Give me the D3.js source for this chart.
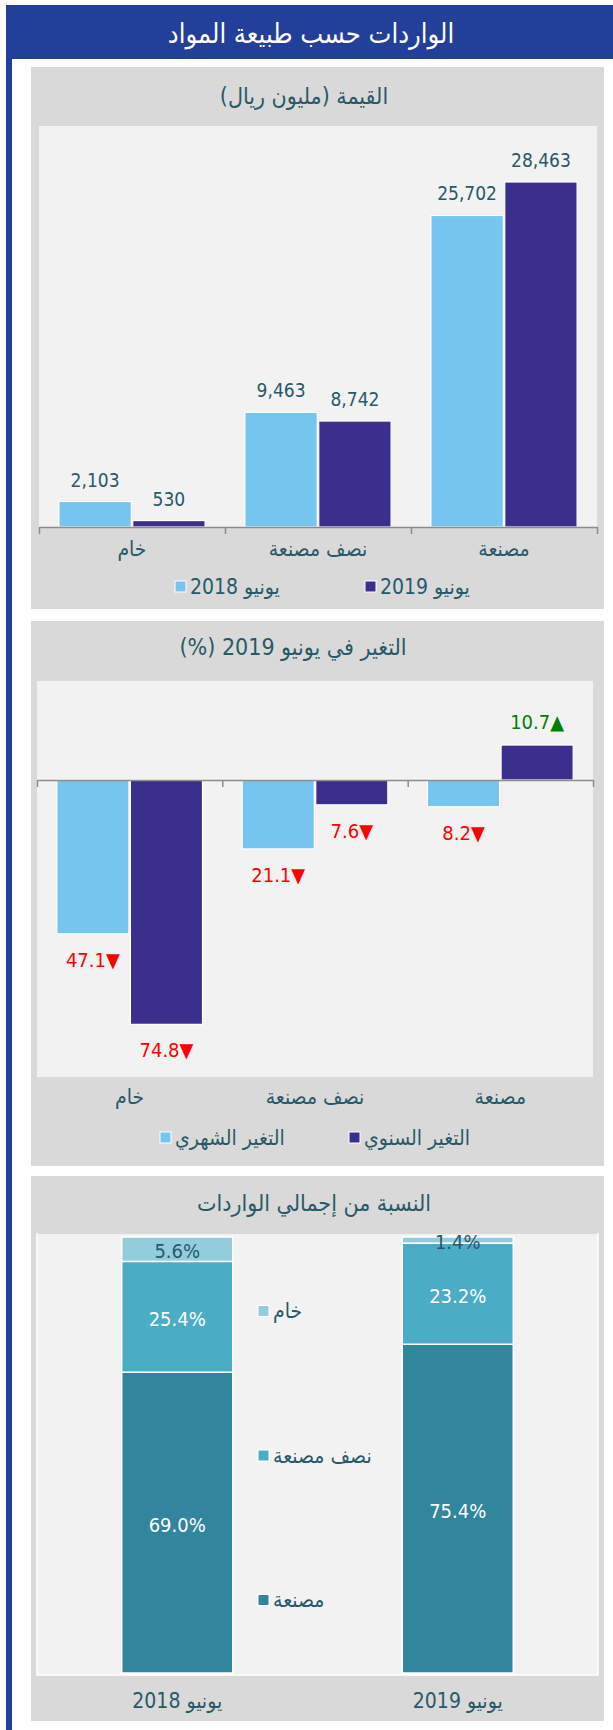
<!DOCTYPE html>
<html>
<head>
<meta charset="utf-8">
<script src="https://cdn.jsdelivr.net/npm/d3@7"></script>
<style>
  body { margin: 0; background: #fff; }
  svg text { font-family: "DejaVu Sans Condensed", "DejaVu Sans", sans-serif; }
</style>
</head>
<body>
<svg width="613" height="1730"></svg>
<script>
// data
var categories = ["خام", "نصف مصنعة", "مصنعة"];
var valueSeries = ["يونيو 2018", "يونيو 2019"];
var values2018 = [2103, 9463, 25702];
var values2019 = [530, 8742, 28463];

var changeSeries = ["التغير الشهري", "التغير السنوي"];
var monthlyChange = [-47.1, -21.1, -8.2];
var annualChange = [-74.8, -7.6, 10.7];

var shareYears = ["يونيو 2018", "يونيو 2019"];
var shareParts = ["مصنعة", "نصف مصنعة", "خام"];
var share2018 = [69.0, 25.4, 5.6];
var share2019 = [75.4, 23.2, 1.4];

var textColor = "#26596a",
    lightBlue = "#75c5ef",
    darkPurple = "#3b2f8e",
    shareColors = ["#31859c", "#4bacc6", "#93cddd"];

var svg = d3.select("svg");

// frame
svg.append("rect").attr("x", 6).attr("y", 5).attr("width", 6).attr("height", 1725).attr("fill", "#22409a");
svg.append("rect").attr("x", 6).attr("y", 5).attr("width", 607).attr("height", 54).attr("fill", "#22409a");
svg.append("text")
    .attr("x", 311).attr("y", 33)
    .attr("text-anchor", "middle").attr("dominant-baseline", "central")
    .attr("direction", "rtl")
    .style("font-size", "27px").attr("fill", "#fff")
    .text("الواردات حسب طبيعة المواد");

function panel(y0, y1, plot, title, titleX, titleY) {
    svg.append("rect").attr("x", 31).attr("y", y0).attr("width", 573).attr("height", y1 - y0).attr("fill", "#d9d9d9");
    svg.append("rect").attr("x", plot.x0).attr("y", plot.y0)
        .attr("width", plot.x1 - plot.x0).attr("height", plot.y1 - plot.y0)
        .attr("fill", "#f2f2f2");
    if (title) titleText(title, titleX, titleY);
}

function titleText(title, x, y) {
    svg.append("text")
        .attr("x", x).attr("y", y)
        .attr("text-anchor", "middle").attr("dominant-baseline", "central")
        .attr("direction", "rtl")
        .style("font-size", "23px").attr("fill", textColor)
        .text(title);
}

function boundaryAxis(x0, x1, y, n) {
    var s = d3.scaleLinear().domain([0, n]).range([x0, x1]);
    var g = svg.append("g")
        .attr("transform", "translate(0," + y + ")")
        .call(d3.axisBottom(s).tickValues(d3.range(n + 1)).tickSize(7).tickSizeOuter(0).tickFormat(""));
    g.selectAll("path, line").attr("stroke", "#8c8c8c").attr("stroke-width", 1.5);
}

function legendRow(items, colors, xs, y) {
    items.forEach(function(name, i) {
        svg.append("rect").attr("x", xs[i]).attr("y", y - 6).attr("width", 11).attr("height", 11)
            .attr("fill", colors[i]).attr("stroke", "#fff").attr("stroke-width", 1);
        svg.append("text").attr("x", xs[i] + 15).attr("y", y)
            .attr("dominant-baseline", "central")
            .style("font-size", "21px").attr("fill", textColor)
            .text(name);
    });
}

// ---------- chart 1: values ----------
var p1 = {x0: 39, x1: 597, y0: 126, y1: 527};
panel(67, 609, p1, "القيمة (مليون ريال)", 304, 96);

var x0 = d3.scaleBand().domain(categories).range([p1.x0, p1.x1]);
var x1 = d3.scaleBand().domain(valueSeries)
    .range([x0.bandwidth() * 0.107, x0.bandwidth() * 0.893]).paddingInner(0.02);
var y1 = d3.scaleLinear().domain([0, 33000]).range([p1.y1, p1.y1 - 400]);

var rows1 = categories.map(function(c, i) {
    return {cat: c, vals: [{s: valueSeries[0], v: values2018[i]}, {s: valueSeries[1], v: values2019[i]}]};
});
var col1 = d3.scaleOrdinal().domain(valueSeries).range([lightBlue, darkPurple]);

var g1 = svg.append("g").selectAll("g").data(rows1).enter().append("g")
    .attr("transform", function(d) { return "translate(" + x0(d.cat) + ",0)"; });
g1.selectAll("rect").data(function(d) { return d.vals; }).enter().append("rect")
    .attr("x", function(d) { return x1(d.s); })
    .attr("y", function(d) { return y1(d.v); })
    .attr("width", x1.bandwidth())
    .attr("height", function(d) { return y1(0) - y1(d.v); })
    .attr("fill", function(d) { return col1(d.s); })
    .attr("stroke", "#fff").attr("stroke-width", 1.2);
g1.selectAll("text").data(function(d) { return d.vals; }).enter().append("text")
    .attr("x", function(d) { return x1(d.s) + x1.bandwidth() / 2; })
    .attr("y", function(d) { return y1(d.v) - 22; })
    .attr("text-anchor", "middle").attr("dominant-baseline", "central")
    .style("font-size", "19px").attr("fill", textColor)
    .text(function(d) { return d3.format(",")(d.v); });

boundaryAxis(p1.x0, p1.x1, p1.y1, categories.length);

svg.append("g").selectAll("text").data(categories).enter().append("text")
    .attr("x", function(d) { return x0(d) + x0.bandwidth() / 2; })
    .attr("y", 549)
    .attr("text-anchor", "middle").attr("dominant-baseline", "central")
    .attr("direction", "rtl")
    .style("font-size", "21px").attr("fill", textColor)
    .text(function(d) { return d; });

legendRow(valueSeries, [lightBlue, darkPurple], [175, 365], 587);

// ---------- chart 2: change ----------
var p2 = {x0: 37, x1: 593, y0: 681, y1: 1077};
panel(621, 1166, p2, "التغير في يونيو 2019 (%)", 293, 647);

var x0b = d3.scaleBand().domain(categories).range([p2.x0, p2.x1]);
var x1b = d3.scaleBand().domain(changeSeries)
    .range([x0b.bandwidth() * 0.107, x0b.bandwidth() * 0.893]).paddingInner(0.02);
var y2 = d3.scaleLinear().domain([-90, 30]).range([1074, 682]);
var col2 = d3.scaleOrdinal().domain(changeSeries).range([lightBlue, darkPurple]);

var rows2 = categories.map(function(c, i) {
    return {cat: c, vals: [{s: changeSeries[0], v: monthlyChange[i]}, {s: changeSeries[1], v: annualChange[i]}]};
});
var g2 = svg.append("g").selectAll("g").data(rows2).enter().append("g")
    .attr("transform", function(d) { return "translate(" + x0b(d.cat) + ",0)"; });
g2.selectAll("rect").data(function(d) { return d.vals; }).enter().append("rect")
    .attr("x", function(d) { return x1b(d.s); })
    .attr("y", function(d) { return y2(Math.max(0, d.v)); })
    .attr("width", x1b.bandwidth())
    .attr("height", function(d) { return Math.abs(y2(d.v) - y2(0)); })
    .attr("fill", function(d) { return col2(d.s); })
    .attr("stroke", "#fff").attr("stroke-width", 1.2);
g2.selectAll("text").data(function(d) { return d.vals; }).enter().append("text")
    .attr("x", function(d) { return x1b(d.s) + x1b.bandwidth() / 2; })
    .attr("y", function(d) { return d.v < 0 ? y2(d.v) + 26 : y2(d.v) - 23; })
    .attr("text-anchor", "middle").attr("dominant-baseline", "central")
    .style("font-size", "20px")
    .attr("fill", function(d) { return d.v < 0 ? "#ff0000" : "#008000"; })
    .text(function(d) { return Math.abs(d.v).toFixed(1) + (d.v < 0 ? "▼" : "▲"); });

boundaryAxis(p2.x0, p2.x1, y2(0), categories.length);

svg.append("g").selectAll("text").data(categories).enter().append("text")
    .attr("x", function(d) { return x0b(d) + x0b.bandwidth() / 2; })
    .attr("y", 1097)
    .attr("text-anchor", "middle").attr("dominant-baseline", "central")
    .attr("direction", "rtl")
    .style("font-size", "21px").attr("fill", textColor)
    .text(function(d) { return d; });

legendRow(changeSeries, [lightBlue, darkPurple], [160, 349], 1138);

// ---------- chart 3: share ----------
var p3 = {x0: 37, x1: 598, y0: 1234, y1: 1675};
panel(1176, 1721, p3, null);
svg.append("rect").attr("x", p3.x0).attr("y", p3.y0 - 2).attr("width", p3.x1 - p3.x0).attr("height", p3.y1 - p3.y0 + 2)
    .attr("fill", "none").attr("stroke", "#fff").attr("stroke-width", 1.5);
svg.append("rect").attr("x", 31).attr("y", 1176).attr("width", 573).attr("height", 57).attr("fill", "#d9d9d9");
titleText("النسبة من إجمالي الواردات", 314, 1203);

var x3 = d3.scaleBand().domain(shareYears).range([p3.x0, p3.x1]);
var barW = x3.bandwidth() * 0.396;
var y3 = d3.scaleLinear().domain([0, 100]).range([1673, 1237]);

var shareRows = shareYears.map(function(yr, i) {
    var r = {year: yr};
    var src = i === 0 ? share2018 : share2019;
    shareParts.forEach(function(p, j) { r[p] = src[j]; });
    return r;
});
var stacked = d3.stack().keys(shareParts)(shareRows);
var col3 = d3.scaleOrdinal().domain(shareParts).range(shareColors);

var layers = svg.append("g").selectAll("g").data(stacked).enter().append("g")
    .attr("fill", function(d) { return col3(d.key); });
layers.selectAll("rect").data(function(d) { return d; }).enter().append("rect")
    .attr("x", function(d) { return x3(d.data.year) + (x3.bandwidth() - barW) / 2; })
    .attr("y", function(d) { return y3(d[1]); })
    .attr("width", barW)
    .attr("height", function(d) { return y3(d[0]) - y3(d[1]); })
    .attr("stroke", "#fff").attr("stroke-width", 1.5);
stacked.forEach(function(layer) {
    svg.append("g").selectAll("text").data(layer).enter().append("text")
        .attr("x", function(d) { return x3(d.data.year) + x3.bandwidth() / 2; })
        .attr("y", function(d) { return (y3(d[0]) + y3(d[1])) / 2 + 2; })
        .attr("text-anchor", "middle").attr("dominant-baseline", "central")
        .style("font-size", "20px")
        .attr("fill", layer.key === "خام" ? textColor : "#fff")
        .text(function(d) { return d3.format(".1f")(d[1] - d[0]) + "%"; });
});

svg.append("g").selectAll("text").data(shareYears).enter().append("text")
    .attr("x", function(d) { return x3(d) + x3.bandwidth() / 2; })
    .attr("y", 1701)
    .attr("text-anchor", "middle").attr("dominant-baseline", "central")
    .attr("direction", "rtl")
    .style("font-size", "21px").attr("fill", textColor)
    .text(function(d) { return d; });

// vertical legend between the bars
var legY = d3.scalePoint().domain(shareParts.slice().reverse()).range([1311, 1600]);
shareParts.forEach(function(p) {
    svg.append("rect").attr("x", 258).attr("y", legY(p) - 5.5).attr("width", 11).attr("height", 11)
        .attr("fill", col3(p)).attr("stroke", "#fff").attr("stroke-width", 1);
    svg.append("text").attr("x", 273).attr("y", legY(p))
        .attr("dominant-baseline", "central")
        .style("font-size", "21px").attr("fill", textColor)
        .text(p);
});
</script>
</body>
</html>
